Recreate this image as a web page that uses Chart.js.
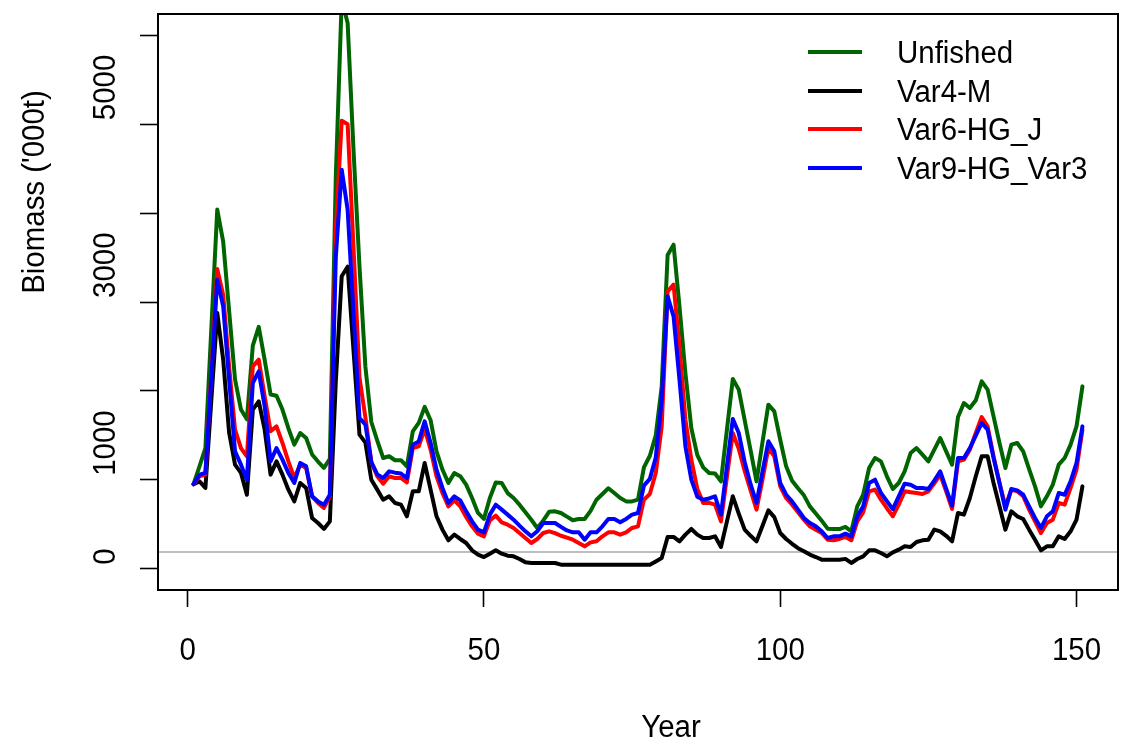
<!DOCTYPE html>
<html>
<head>
<meta charset="utf-8">
<title>Biomass by year</title>
<script src="https://cdn.jsdelivr.net/npm/chart.js@4.4.1/dist/chart.umd.min.js"></script>
<style>
  html, body { margin: 0; padding: 0; background: #ffffff; }
  canvas { display: block; }
</style>
</head>
<body>
<canvas id="biomass" width="1136" height="741"></canvas>
<script>
// Simulation years
const years = Array.from({ length: 151 }, (_, i) => i + 1);

// Biomass ('000t) per year for each scenario
const unfished = [
  950, 1150, 1357, 2700, 4040, 3680, 2900, 2130, 1790, 1680,
  2510, 2720, 2350, 1960, 1945, 1790, 1580, 1395, 1525, 1470,
  1285, 1205, 1135, 1235, 4400, 6400, 6140, 4700, 3400, 2270,
  1650, 1440, 1245, 1265, 1220, 1220, 1150, 1545, 1640, 1820,
  1670, 1320, 1115, 965, 1075, 1040, 945, 795, 627, 560,
  795, 970, 965, 850, 795, 720, 635, 550, 458, 540,
  640, 645, 626, 585, 544, 559, 559, 650, 776, 840,
  905, 851, 795, 757, 757, 776, 1140, 1270, 1500, 2050,
  3530, 3645, 2950, 2200, 1580, 1280, 1140, 1076, 1070, 982,
  1560, 2134, 2014, 1670, 1330, 982, 1420, 1845, 1770, 1450,
  1151, 990, 905, 825, 701, 620, 540, 450, 446, 446,
  469, 420, 701, 832, 1133, 1245, 1207, 1039, 896, 964,
  1095, 1301, 1357, 1283, 1207, 1340, 1470, 1320, 1170, 1706,
  1864, 1808, 1894, 2107, 2014, 1714, 1414, 1133, 1395, 1414,
  1320, 1120, 926, 701, 814, 945, 1170, 1245, 1395, 1601,
  2051
];

const var4M = [
  950, 982, 908, 1900, 2876, 2351, 1530, 1170, 1077, 832,
  1789, 1882, 1564, 1058, 1207, 1058, 889, 757, 964, 908,
  570, 514, 447, 532, 2100, 3289, 3397, 2450, 1508, 1418,
  1000, 889, 776, 814, 739, 720, 589, 870, 870, 1189,
  889, 589, 439, 319, 383, 334, 289, 206, 158, 131,
  169, 206, 169, 146, 139, 109, 71, 64, 64, 64,
  64, 64, 45, 45, 45, 45, 45, 45, 45, 45,
  45, 45, 45, 45, 45, 45, 45, 45, 82, 120,
  357, 357, 307, 383, 447, 383, 345, 345, 364, 244,
  529, 814, 620, 439, 370, 307, 480, 656, 580, 401,
  334, 280, 230, 195, 158, 131, 101, 101, 101, 101,
  110, 64, 109, 139, 206, 206, 176, 139, 184, 214,
  251, 244, 300, 319, 326, 440, 420, 370, 307, 626,
  608, 795, 1039, 1264, 1264, 964, 701, 439, 645, 589,
  559, 439, 326, 206, 251, 251, 364, 334, 420, 551,
  926
];

const var6HGJ = [
  950, 1039, 1058, 2200, 3370, 3080, 2276, 1564, 1357, 1264,
  2276, 2351, 1939, 1545, 1601, 1414, 1207, 1020, 1170, 1133,
  814, 739, 683, 814, 3800, 5040, 5000, 3600, 2150, 1700,
  1200, 1040, 956, 1039, 1020, 1020, 971, 1357, 1376, 1571,
  1339, 1039, 851, 701, 769, 701, 581, 476, 394, 364,
  544, 596, 521, 495, 458, 401, 345, 289, 334, 401,
  420, 400, 370, 350, 326, 289, 251, 296, 308, 364,
  409, 409, 383, 409, 458, 476, 776, 840, 1076, 1600,
  3120, 3195, 2501, 1676, 1226, 900, 740, 740, 720, 532,
  1030, 1526, 1350, 1100, 880, 664, 1000, 1357, 1264, 926,
  795, 720, 634, 551, 476, 439, 401, 326, 319, 334,
  357, 319, 532, 634, 870, 889, 776, 680, 590, 720,
  870, 860, 851, 840, 870, 960, 1058, 870, 672, 1207,
  1226, 1339, 1526, 1706, 1601, 1264, 964, 701, 889, 870,
  814, 664, 532, 401, 514, 551, 739, 720, 908, 1114,
  1564
];

const var9HGVar3 = [
  950, 1058, 1077, 2150, 3251, 2951, 2126, 1320, 1170, 1001,
  2089, 2220, 1826, 1207, 1357, 1226, 1077, 964, 1189, 1151,
  814, 757, 720, 832, 3500, 4489, 4039, 2870, 1695, 1620,
  1200, 1060, 1020, 1095, 1080, 1070, 1020, 1395, 1432, 1657,
  1414, 1114, 908, 739, 814, 769, 645, 532, 439, 409,
  608, 720, 664, 608, 551, 484, 420, 364, 420, 514,
  514, 514, 470, 430, 409, 409, 326, 409, 409, 476,
  559, 559, 521, 559, 608, 626, 935, 1010, 1250, 1900,
  3064, 2839, 2126, 1376, 1001, 810, 776, 790, 814, 608,
  1146, 1684, 1526, 1200, 950, 739, 1090, 1433, 1320, 964,
  832, 757, 664, 570, 514, 476, 420, 345, 364, 364,
  394, 364, 589, 701, 964, 1001, 851, 760, 670, 814,
  956, 945, 908, 908, 896, 990, 1095, 900, 709, 1245,
  1245, 1357, 1496, 1639, 1564, 1245, 964, 664, 896, 881,
  832, 701, 570, 458, 589, 645, 851, 832, 982, 1189,
  1601
];

const seriesNames = ['Unfished', 'Var4-M', 'Var6-HG_J', 'Var9-HG_Var3'];
const seriesColors = ['#006400', '#000000', '#ff0000', '#0000ff'];

// Axis ticks and labels
const xTicks = [0, 50, 100, 150];
const xTickLabels = ['0', '50', '100', '150'];
const yTicks = [0, 1000, 2000, 3000, 4000, 5000, 6000];
const yTickLabels = ['0', '1000', '', '3000', '', '5000', ''];
const xTitle = 'Year';
const yTitle = "Biomass ('000t)";

// Horizontal reference level drawn across the plot
const referenceLevel = 190;

const FONT = "31px 'Liberation Sans', Arial, Helvetica, sans-serif";
const SQUEEZE = 0.95;
const LINE_WIDTH = 4;

// Draw text with optional rotation and slight horizontal condensing
function drawText(ctx, text, x, y, align, rotation) {
  ctx.save();
  ctx.translate(x, y);
  if (rotation) ctx.rotate(rotation);
  ctx.scale(SQUEEZE, 1);
  ctx.font = FONT;
  ctx.fillStyle = '#000000';
  ctx.textAlign = align;
  ctx.textBaseline = 'alphabetic';
  ctx.fillText(text, 0, 0);
  ctx.restore();
}

// Base-graphics look: framed plot, outside tick labels, reference line, keyless legend
const baseStyle = {
  id: 'baseStyle',
  beforeDatasetsDraw(chart) {
    const { ctx, chartArea: a, scales: { y } } = chart;
    const py = Math.round(y.getPixelForValue(referenceLevel));
    ctx.save();
    ctx.strokeStyle = '#bebebe';
    ctx.lineWidth = 2;
    ctx.beginPath();
    ctx.moveTo(a.left, py);
    ctx.lineTo(a.right, py);
    ctx.stroke();
    ctx.restore();
  },
  afterDraw(chart) {
    const { ctx, chartArea: a, scales: { x, y } } = chart;
    ctx.save();
    ctx.strokeStyle = '#000000';
    ctx.lineWidth = 2;
    ctx.strokeRect(a.left, a.top, a.right - a.left, a.bottom - a.top);
    ctx.restore();

    // x tick labels
    xTicks.forEach((v, i) => {
      drawText(ctx, xTickLabels[i], x.getPixelForValue(v), 660, 'center', 0);
    });
    // y tick labels, reading upward from each tick
    yTicks.forEach((v, i) => {
      if (!yTickLabels[i]) return;
      drawText(ctx, yTickLabels[i], 115, y.getPixelForValue(v) - 4, 'left', -Math.PI / 2);
    });
    // axis titles
    drawText(ctx, xTitle, 671, 737, 'center', 0);
    drawText(ctx, yTitle, 44, 192, 'center', -Math.PI / 2);

    // legend
    chart.data.datasets.forEach((ds, i) => {
      const cy = 52 + i * 38.7;
      ctx.save();
      ctx.strokeStyle = ds.borderColor;
      ctx.lineWidth = LINE_WIDTH;
      ctx.lineCap = 'butt';
      ctx.beginPath();
      ctx.moveTo(808, Math.round(cy));
      ctx.lineTo(862, Math.round(cy));
      ctx.stroke();
      ctx.restore();
      drawText(ctx, ds.label, 897, cy + 11, 'left', 0);
    });
  }
};

const seriesValues = [unfished, var4M, var6HGJ, var9HGVar3];
const datasets = seriesValues.map((vals, k) => ({
  label: seriesNames[k],
  data: years.map((yr, i) => ({ x: yr, y: vals[i] })),
  borderColor: seriesColors[k],
  backgroundColor: seriesColors[k],
  order: seriesValues.length - k
}));

new Chart(document.getElementById('biomass'), {
  type: 'line',
  data: { datasets },
  options: {
    responsive: false,
    animation: false,
    devicePixelRatio: 1,
    events: [],
    layout: { padding: { top: 14, right: 18, left: 0, bottom: 0 } },
    elements: {
      point: { radius: 0, hoverRadius: 0 },
      line: { borderWidth: LINE_WIDTH, tension: 0, borderCapStyle: 'round', borderJoinStyle: 'round', fill: false }
    },
    plugins: { legend: { display: false }, tooltip: { enabled: false } },
    scales: {
      x: {
        type: 'linear',
        min: -5,
        max: 157,
        afterBuildTicks: s => { s.ticks = xTicks.map(v => ({ value: v })); },
        afterFit: s => { s.height = 151; },
        grid: { drawOnChartArea: false, drawTicks: true, tickLength: 17, tickColor: '#000000', tickWidth: 1.6 },
        border: { display: false },
        ticks: { display: false }
      },
      y: {
        type: 'linear',
        min: -240,
        max: 6240,
        afterBuildTicks: s => { s.ticks = yTicks.map(v => ({ value: v })); },
        afterFit: s => { s.width = 158; },
        grid: { drawOnChartArea: false, drawTicks: true, tickLength: 18, tickColor: '#000000', tickWidth: 1.6 },
        border: { display: false },
        ticks: { display: false }
      }
    }
  },
  plugins: [baseStyle]
});
</script>
</body>
</html>
